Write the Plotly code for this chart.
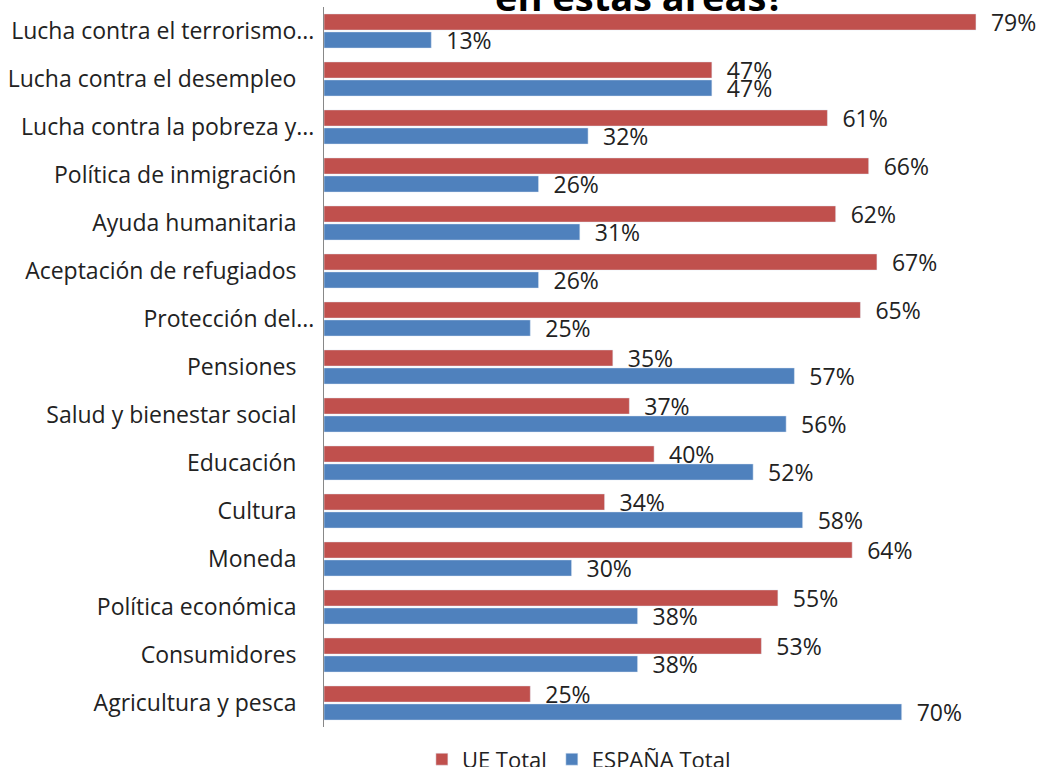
import plotly.graph_objects as go

_RED = "#C0504D"
_BLUE = "#4F81BD"
_FONT = "Open Sans"

categories = [
    "Lucha contra el terrorismo...",
    "Lucha contra el desempleo\u00a0\u00a0\u00a0",
    "Lucha contra la pobreza y...",
    "Política de inmigración\u00a0\u00a0\u00a0",
    "Ayuda humanitaria\u00a0\u00a0\u00a0",
    "Aceptación de refugiados\u00a0\u00a0\u00a0",
    "Protección del...",
    "Pensiones\u00a0\u00a0\u00a0",
    "Salud y bienestar social\u00a0\u00a0\u00a0",
    "Educación\u00a0\u00a0\u00a0",
    "Cultura\u00a0\u00a0\u00a0",
    "Moneda\u00a0\u00a0\u00a0",
    "Política económica\u00a0\u00a0\u00a0",
    "Consumidores\u00a0\u00a0\u00a0",
    "Agricultura y pesca\u00a0\u00a0\u00a0",
]
ue_total = [79, 47, 61, 66, 62, 67, 65, 35, 37, 40, 34, 64, 55, 53, 25]
espana_total = [13, 47, 32, 26, 31, 26, 25, 57, 56, 52, 58, 30, 38, 38, 70]

fig = go.Figure()
for name, vals, color in [("UE Total", ue_total, _RED),
                          ("ESPAÑA Total", espana_total, _BLUE)]:
    fig.add_trace(go.Bar(
        y=categories, x=vals, orientation="h", name=name,
        marker=dict(color=color),
        text=[f"\u00a0\u00a0{v}%" for v in vals], textposition="outside",
        constraintext="none",
        textfont=dict(family=_FONT, size=23, color="#222"),
        cliponaxis=False,
    ))

fig.add_annotation(
    text="<b>en estas áreas?</b>", x=0.44, y=1, xref="paper", yref="paper",
    xanchor="center", yanchor="middle", yshift=11, showarrow=False,
    font=dict(family=_FONT, size=38, color="#000"),
)

fig.update_layout(
    width=1044, height=767,
    paper_bgcolor="white", plot_bgcolor="white",
    font=dict(family=_FONT, size=22, color="#222"),
    barmode="group", bargap=0.25, bargroupgap=0.1,
    margin=dict(l=324, r=2, t=7, b=40, autoexpand=False),
    showlegend=True,
    legend=dict(orientation="h", x=0.355, xanchor="center", y=-0.045,
                yanchor="middle", font=dict(size=22), traceorder="normal"),
)
fig.update_xaxes(range=[0, 87], visible=False)
fig.update_yaxes(autorange="reversed", showline=True, linecolor="#888",
                 linewidth=1, ticks="", ticklabelstandoff=4,
                 showgrid=False, tickfont=dict(family=_FONT, size=23, color="#222"))

fig.write_html("out.html", config={"displayModeBar": False},
               post_script="document.body.style.margin='0';")
